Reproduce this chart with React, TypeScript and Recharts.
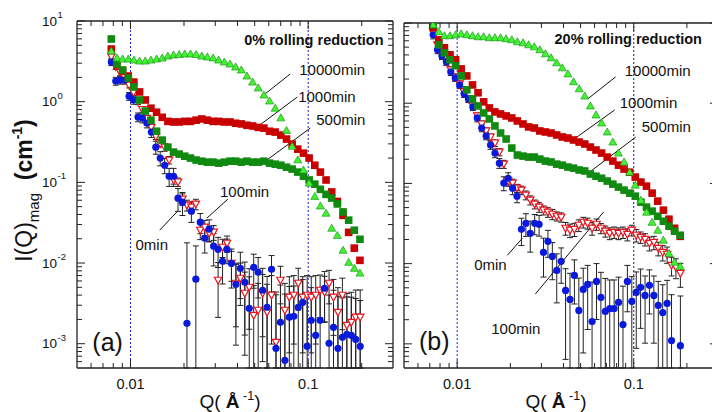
import React from 'react';
import { ScatterChart, Scatter, XAxis, YAxis, ErrorBar, ReferenceLine, ReferenceDot } from 'recharts';

const FONT = '"Liberation Sans", Arial, Helvetica, sans-serif';

// ---------------- tick values / labels ----------------
const xTicks = [0.006, 0.007, 0.008, 0.009, 0.01, 0.02, 0.03, 0.04, 0.05, 0.06, 0.07, 0.08, 0.09, 0.1, 0.2];
const xMajor = [0.01, 0.1];
const xMajorLabels = ['0.01', '0.1'];
const yTicks = [0.0006, 0.0007, 0.0008, 0.0009, 0.001, 0.002, 0.003, 0.004, 0.005, 0.006, 0.007, 0.008, 0.009,
  0.01, 0.02, 0.03, 0.04, 0.05, 0.06, 0.07, 0.08, 0.09, 0.1, 0.2, 0.3, 0.4, 0.5, 0.6, 0.7, 0.8, 0.9,
  1, 2, 3, 4, 5, 6, 7, 8, 9, 10];
const yMajor = [0.001, 0.01, 0.1, 1, 10];
const yMajorExp = ['-3', '-2', '-1', '0', '1'];
const X_DOMAIN = [0.005, 0.3];
const Y_DOMAIN = [0.0005, 10];

// ---------------- panel (a): 0% rolling reduction ----------------
const qA_a = [0.0078, 0.00839, 0.00903, 0.00972, 0.01045, 0.01125, 0.01211, 0.01303, 0.01402, 0.01508, 0.01623,
  0.01746, 0.01879, 0.02021, 0.02175, 0.0234, 0.02518, 0.02709, 0.02915, 0.03136, 0.03374, 0.0363, 0.03906,
  0.04203, 0.04522, 0.04865, 0.05235, 0.05632, 0.0606, 0.0652, 0.07015, 0.07548, 0.08121, 0.08738, 0.09403,
  0.1012, 0.1089, 0.1171, 0.126, 0.1356, 0.1459, 0.157, 0.1689, 0.1817, 0.1955];
const tri10000_a = [4.25, 3.48, 3.38, 3.38, 3.28, 3.19, 3.19, 3.28, 3.38, 3.48, 3.68, 3.79, 3.84, 3.9, 3.9, 3.84,
  3.68, 3.58, 3.48, 3.28, 3.1, 2.93, 2.69, 2.47, 2.08, 1.75, 1.48, 1.21, 1.02, 0.83, 0.63, 0.44, 0.28, 0.19,
  0.142, 0.098, 0.067, 0.051, 0.0415, 0.027, 0.022, 0.0144, 0.0102, 0.0086, 0.0075];
const sq1000_a = [4.49, 2.85, 2.4, 2.08, 1.75, 1.32, 1.05, 0.83, 0.74, 0.64, 0.57, 0.56, 0.56, 0.57, 0.57, 0.59,
  0.61, 0.59, 0.57, 0.57, 0.56, 0.56, 0.54, 0.53, 0.51, 0.5, 0.48, 0.47, 0.43, 0.42, 0.385, 0.344, 0.298, 0.258,
  0.23, 0.2, 0.163, 0.134, 0.107, 0.076, 0.058, 0.039, 0.024, 0.0153, 0.0108];
const sq500_a = [5.98, 2.93, 2.47, 1.96, 1.52, 1.05, 0.765, 0.59, 0.43, 0.334, 0.273, 0.237, 0.224, 0.211, 0.2,
  0.189, 0.183, 0.178, 0.178, 0.173, 0.178, 0.183, 0.183, 0.178, 0.183, 0.178, 0.178, 0.183, 0.173, 0.168, 0.163,
  0.154, 0.146, 0.134, 0.119, 0.107, 0.095, 0.082, 0.071, 0.064, 0.054, 0.043, 0.034, 0.0255, 0.0197];
const qB_a = [0.0078, 0.00826, 0.00875, 0.00927, 0.00982, 0.0104, 0.01102, 0.01167, 0.01236, 0.0131, 0.01388,
  0.0147, 0.01557, 0.0165, 0.01748, 0.01851, 0.01961, 0.02078, 0.02201, 0.02332, 0.0247, 0.02617, 0.02772,
  0.02937, 0.03111, 0.03296, 0.03492, 0.03699, 0.03919, 0.04151, 0.04398, 0.04659, 0.04936, 0.05229, 0.0554,
  0.05869, 0.06217, 0.06586, 0.06978, 0.07392, 0.07831, 0.08297, 0.0879, 0.09312, 0.09865, 0.104, 0.1102,
  0.1167, 0.1236, 0.131, 0.1388, 0.147, 0.1557, 0.165, 0.1748, 0.1851, 0.1961];
const circ0_a = [3.1, 1.8, 1.85, 1.85, 1.17, 1.05, 0.644, 0.626, 0.543, 0.42, 0.273, 0.2, 0.163, 0.119, 0.119,
  0.0637, 0.0568, 0.00179, 0.0439, 0.0063, 0.0321, 0.0203, 0.0263, 0.0162, 0.0148, 0.0105, 0.0148, 0.0099,
  0.00546, 0.00862, 0.00578, 0.00275, 0.00887, 0.00769, 0.0046, 0.00283, 0.00838, 0.000877, 0.00184, 0.000622,
  0.00213, 0.00219, 0.00283, 0.00326, 0.000928, 0.00195, 0.00127, 0.00195, 0.00487, 0.00101, 0.0016, 0.000877,
  0.0012, 0.00131, 0.00127, 0.00113, 0.000928];
const err0_a = [0.3, 0.2, 0.2, 0.2, 0.13, 0.12, 0.08, 0.08, 0.07, 0.06, 0.05, 0.04, 0.035, 0.03, 0.03, 0.02, 0.018,
  0.016, 0.012, 0.01, 0.009, 0.007, 0.008, 0.007, 0.006, 0.005, 0.005, 0.005, 0.0045, 0.005, 0.0045, 0.004, 0.004,
  0.004, 0.004, 0.004, 0.004, 0.0035, 0.0035, 0.0035, 0.003, 0.003, 0.003, 0.003, 0.003, 0.003, 0.003, 0.003,
  0.003, 0.003, 0.003, 0.003, 0.0025, 0.0025, 0.0025, 0.0025, 0.0025];
const tri100_a = [3.6, 2.7, 2.3, 2.0, 1.6, 1.3, 1.0, 0.8, 0.62, 0.48, 0.37, 0.3, 0.273, 0.189, 0.107, 0.101, 0.0619,
  0.0521, 0.0493, 0.0537, 0.0255, 0.0278, 0.0234, 0.0241, 0.00612, 0.0157, 0.0176, 0.00994, 0.00562, 0.00648,
  0.00422, 0.00501, 0.00225, 0.0026, 0.00422, 0.00245, 0.00399, 0.00104, 0.00612, 0.0026, 0.00377, 0.00399,
  0.00562, 0.00377, 0.00399, 0.00377, 0.00399, 0.0046, 0.00434, 0.00562, 0.00377, 0.00245, 0.00399, 0.00169,
  0.00184, 0.00213, 0.00213];
const err100_a = [0.3, 0.2, 0.2, 0.15, 0.12, 0.1, 0.08, 0.06, 0.05, 0.04, 0.03, 0.025, 0.03, 0.02, 0.012, 0.012,
  0.01, 0.008, 0.008, 0.008, 0.006, 0.006, 0.005, 0.005, 0.004, 0.004, 0.004, 0.004, 0.004, 0.0035, 0.0035, 0.0035,
  0.003, 0.003, 0.003, 0.003, 0.003, 0.003, 0.003, 0.003, 0.003, 0.003, 0.003, 0.003, 0.003, 0.003, 0.003,
  0.0025, 0.0025, 0.0025, 0.0025, 0.0025, 0.0025, 0.0025, 0.0025, 0.0025, 0.0025];

// ---------------- panel (b): 20% rolling reduction ----------------
const qA_b = [0.00731, 0.00787, 0.00847, 0.00911, 0.0098, 0.01054, 0.01134, 0.01221, 0.01313, 0.01413, 0.01521,
  0.01636, 0.01761, 0.01894, 0.02038, 0.02193, 0.0236, 0.02539, 0.02732, 0.02939, 0.03162, 0.03403, 0.03661,
  0.03939, 0.04238, 0.0456, 0.04907, 0.05279, 0.0568, 0.06112, 0.06577, 0.07076, 0.07614, 0.08192, 0.08815,
  0.09484, 0.102, 0.1098, 0.1181, 0.1271, 0.1368, 0.1472, 0.1583, 0.1703, 0.1833];
const tri10000_b = [9.5, 7.79, 6.94, 6.94, 7.14, 7.36, 7.14, 6.94, 6.74, 6.74, 6.55, 6.55, 6.55, 6.36, 6.18, 5.84,
  5.67, 5.35, 5.05, 4.64, 4.13, 3.68, 3.19, 2.76, 2.32, 1.85, 1.51, 1.23, 0.925, 0.714, 0.567, 0.438, 0.328,
  0.239, 0.185, 0.138, 0.0952, 0.0619, 0.0438, 0.0328, 0.0261, 0.0196, 0.0134, 0.0104, 0.00925];
const sq1000_b = [8.74, 6.18, 4.91, 4.01, 3.48, 2.68, 2.19, 1.69, 1.35, 1.04, 0.873, 0.778, 0.735, 0.694, 0.655,
  0.601, 0.551, 0.506, 0.491, 0.451, 0.438, 0.425, 0.402, 0.379, 0.368, 0.348, 0.328, 0.31, 0.284, 0.261, 0.239,
  0.213, 0.19, 0.169, 0.151, 0.138, 0.12, 0.104, 0.0925, 0.0757, 0.0601, 0.0464, 0.0358, 0.0276, 0.0219];
const sq500_b = [9.52, 5.35, 4.25, 3.48, 2.93, 2.19, 1.47, 1.13, 0.925, 0.756, 0.637, 0.521, 0.425, 0.358, 0.276,
  0.226, 0.219, 0.213, 0.213, 0.201, 0.19, 0.185, 0.174, 0.169, 0.16, 0.155, 0.147, 0.143, 0.131, 0.123, 0.116,
  0.107, 0.098, 0.09, 0.0825, 0.0757, 0.0694, 0.0584, 0.0506, 0.0451, 0.039, 0.0338, 0.0293, 0.0254, 0.0226];
const qB_b = [0.00731, 0.00774, 0.0082, 0.00869, 0.0092, 0.00975, 0.01033, 0.01094, 0.01159, 0.01227, 0.013,
  0.01377, 0.01459, 0.01545, 0.01637, 0.01734, 0.01837, 0.01945, 0.02061, 0.02183, 0.02312, 0.02449, 0.02594,
  0.02748, 0.02911, 0.03083, 0.03266, 0.03459, 0.03664, 0.03882, 0.04111, 0.04355, 0.04613, 0.04887, 0.05176,
  0.05483, 0.05808, 0.06152, 0.06516, 0.06902, 0.07311, 0.07745, 0.08204, 0.0869, 0.09204, 0.0975, 0.1033,
  0.1094, 0.1159, 0.1227, 0.13, 0.1377, 0.1459, 0.1545, 0.1637, 0.1734, 0.1837];
// null = point below the plotted range
const circ0_b = [7.14, 4.64, 3.9, 3.28, 2.46, 2.07, 1.69, 1.31, 1.13, 0.899, 0.655, 0.491, 0.39, 0.301, 0.239,
  0.179, 0.101, 0.116, 0.0873, 0.0694, 0.0268, 0.0319, 0.0239, 0.0319, 0.031, 0.0138, 0.019, 0.0123, 0.00824,
  0.0107, 0.00464, 0.00358, 0.00714, 0.00261, 0.00477, 0.00551, 0.0019, 0.00601, 0.00379, 0.00254, 0.00276,
  0.00276, 0.00328, 0.00174, 0.00601, 0.00338, 0.00438, 0.00506, 0.00402, 0.00536, 0.00402, 0.00301, 0.00246,
  0.00319, 0.0011, null, 0.00095];
const err0_b = [0.8, 0.5, 0.4, 0.3, 0.25, 0.2, 0.17, 0.13, 0.11, 0.09, 0.07, 0.05, 0.04, 0.035, 0.03, 0.025, 0.02,
  0.02, 0.015, 0.012, 0.01, 0.01, 0.01, 0.009, 0.009, 0.007, 0.007, 0.006, 0.005, 0.005, 0.004, 0.004, 0.004,
  0.004, 0.004, 0.004, 0.004, 0.004, 0.004, 0.004, 0.0035, 0.0035, 0.0035, 0.0035, 0.0035, 0.0035, 0.0035,
  0.0035, 0.003, 0.003, 0.003, 0.003, 0.003, 0.003, 0.003, 0.003, 0.003];
const tri100_b = [7.79, 5.35, 4.01, 3.28, 2.61, 2.13, 1.74, 1.38, 1.13, 0.925, 0.694, 0.551, 0.451, 0.379, 0.319,
  0.246, 0.174, 0.107, 0.101, 0.0873, 0.0825, 0.0714, 0.0619, 0.0551, 0.0506, 0.0464, 0.0438, 0.0413, 0.039,
  0.0379, 0.0276, 0.0261, 0.0268, 0.0301, 0.0328, 0.0319, 0.0276, 0.031, 0.0276, 0.0254, 0.0239, 0.0246, 0.0239,
  0.0246, 0.0232, 0.0261, 0.0226, 0.0213, 0.0201, 0.0179, 0.0184, 0.0155, 0.0138, 0.0131, 0.00952, 0.00899,
  0.00757];
const err100_b = [0.8, 0.5, 0.4, 0.3, 0.25, 0.2, 0.15, 0.12, 0.1, 0.08, 0.06, 0.05, 0.04, 0.035, 0.03, 0.025, 0.02,
  0.015, 0.012, 0.01, 0.01, 0.009, 0.008, 0.007, 0.007, 0.006, 0.006, 0.006, 0.005, 0.005, 0.005, 0.005, 0.005,
  0.005, 0.005, 0.005, 0.005, 0.005, 0.004, 0.004, 0.004, 0.004, 0.004, 0.004, 0.004, 0.004, 0.004, 0.0035,
  0.0035, 0.0035, 0.0035, 0.003, 0.003, 0.003, 0.0025, 0.0025, 0.0025];

// ---------------- annotations (data coordinates) ----------------
const annotA = [
  { label: '10000min', q: 0.089, i: 2.47 },
  { label: '1000min', q: 0.0878, i: 1.17 },
  { label: '500min', q: 0.111, i: 0.608 },
  { label: '100min', q: 0.0319, i: 0.0778 },
  { label: '0min', q: 0.01067, i: 0.0171 },
];
const leaderA = [
  { q1: 0.0791, i1: 2.2, q2: 0.0543, i2: 1.14 },
  { q1: 0.0867, i1: 1.14, q2: 0.0515, i2: 0.484 },
  { q1: 0.1026, i1: 0.47, q2: 0.0564, i2: 0.178 },
  { q1: 0.0353, i1: 0.0619, q2: 0.0269, i2: 0.036 },
  { q1: 0.0184, i1: 0.0439, q2: 0.0146, i2: 0.0255 },
];
const annotB = [
  { label: '10000min', q: 0.0889, i: 2.53 },
  { label: '1000min', q: 0.0833, i: 1.01 },
  { label: '500min', q: 0.111, i: 0.506 },
  { label: '0min', q: 0.01249, i: 0.0098 },
  { label: '100min', q: 0.0156, i: 0.00155 },
];
const leaderB = [
  { q1: 0.079, i1: 2.13, q2: 0.0548, i2: 1.13 },
  { q1: 0.078, i1: 0.824, q2: 0.0468, i2: 0.368 },
  { q1: 0.1027, i1: 0.379, q2: 0.0562, i2: 0.1384 },
  { q1: 0.01924, i1: 0.0127, q2: 0.0234, i2: 0.0207 },
  { q1: 0.0277, i1: 0.00417, q2: 0.0675, i2: 0.0441 },
];

function pts(qs: number[], vs: (number | null)[], errs?: number[]) {
  const out: any[] = [];
  qs.forEach((q, k) => {
    const i = vs[k];
    if (i == null) return;
    const p: any = { q, i };
    // lower bar stops at the bottom of the plotted range
    if (errs) p.err = [Math.min(errs[k], i - Y_DOMAIN[0]), errs[k]];
    out.push(p);
  });
  return out;
}

const PANELS = [
  {
    key: 'a', left: 0, width: 400, margin: { top: 20, right: 6, bottom: 43, left: 76 },
    title: '0% rolling reduction', titleAt: { q: 0.2655, i: 5.81 },
    letter: '(a)', letterAt: { q: 0.0061, i: 0.000984 },
    yLabels: true, vline2: '#2222ee',
    annots: annotA, leaders: leaderA,
    d100: pts(qB_a, tri100_a, err100_a), d0: pts(qB_a, circ0_a, err0_a),
    d1000: pts(qA_a, sq1000_a), d500: pts(qA_a, sq500_a), d10000: pts(qA_a, tri10000_a),
  },
  {
    key: 'b', left: 327, width: 400, margin: { top: 22, right: 8, bottom: 43, left: 76 },
    title: '20% rolling reduction', titleAt: { q: 0.2434, i: 6.37 },
    letter: '(b)', letterAt: { q: 0.00608, i: 0.00101 },
    yLabels: false, vline2: '#1a1a80',
    annots: annotB, leaders: leaderB,
    d100: pts(qB_b, tri100_b, err100_b), d0: pts(qB_b, circ0_b, err0_b),
    d1000: pts(qA_b, sq1000_b), d500: pts(qA_b, sq500_b), d10000: pts(qA_b, tri10000_b),
  },
];

function matchIdx(arr: number[], v: number) {
  return arr.findIndex((m) => Math.abs(m - v) <= m * 1e-6);
}

function XTick(props: any) {
  const { x, y, payload, side, showLabel } = props;
  const mi = matchIdx(xMajor, payload.value);
  const len = mi >= 0 ? 8 : 5;
  const dir = side === 'bottom' ? -1 : 1;
  return (
    <g>
      <line x1={x} x2={x} y1={y} y2={y + dir * len} stroke="#222" strokeWidth={1} />
      {showLabel && mi >= 0 ? (
        <text x={x} y={y + 21} textAnchor="middle" fontSize={14.5} fill="#111" fontFamily={FONT}>{xMajorLabels[mi]}</text>
      ) : null}
    </g>
  );
}

function YTick(props: any) {
  const { x, y, payload, side, showLabel } = props;
  const mi = matchIdx(yMajor, payload.value);
  const len = mi >= 0 ? 8 : 5;
  const dir = side === 'left' ? 1 : -1;
  return (
    <g>
      <line x1={x} x2={x + dir * len} y1={y} y2={y} stroke="#222" strokeWidth={1} />
      {showLabel && mi >= 0 ? (
        <g fontFamily={FONT} fill="#111">
          <text x={x - 20} y={y + 4.5} textAnchor="end" fontSize={13.5}>10</text>
          <text x={x - 19.5} y={y - 3} textAnchor="start" fontSize={9.5}>{yMajorExp[mi]}</text>
        </g>
      ) : null}
    </g>
  );
}

const square = (fill: string) => (p: any) => (
  <rect x={p.cx - 3.8} y={p.cy - 3.8} width={7.6} height={7.6} fill={fill} />
);
const triUp = (p: any) => (
  <polygon points={`${p.cx},${p.cy - 4} ${p.cx + 4},${p.cy + 3} ${p.cx - 4},${p.cy + 3}`} fill="#44f233" stroke="#1a9a1a" strokeWidth={0.7} />
);
const triDownOpen = (p: any) => (
  <polygon points={`${p.cx - 3.7},${p.cy - 3} ${p.cx + 3.7},${p.cy - 3} ${p.cx},${p.cy + 3.7}`} fill="#ffffff" stroke="#e8141e" strokeWidth={1.2} />
);
const circle = (p: any) => <circle cx={p.cx} cy={p.cy} r={3.6} fill="#0a1adc" />;

function Panel({ cfg }: { cfg: any }) {
  const axisLine = { stroke: '#222', strokeWidth: 1.3 };
  return (
    <ScatterChart width={cfg.width} height={412} margin={cfg.margin} style={{ fontFamily: FONT }}>
      <XAxis
        xAxisId={0} dataKey="q" type="number" scale="log" domain={X_DOMAIN} allowDataOverflow
        ticks={xTicks} interval={0} height={1} tickSize={0} tickMargin={0} tickLine={false} axisLine={axisLine}
        tick={(p: any) => <XTick {...p} side="bottom" showLabel />}
        label={{
          content: (lp: any) => {
            const vb = lp.viewBox || { x: 0, y: 0, width: 0, height: 0 };
            const cx = vb.x + vb.width / 2 - 5;
            return (
              <text x={cx} y={vb.y + 39.5} textAnchor="middle" fontSize={19} fill="#111" fontFamily={FONT}>
                Q(<tspan fontWeight="bold"> Å</tspan><tspan fontSize={12.5} dy={-8}> -1</tspan><tspan dy={8}>)</tspan>
              </text>
            );
          },
        }}
      />
      <XAxis
        xAxisId="top" orientation="top" dataKey="q" type="number" scale="log" domain={X_DOMAIN} allowDataOverflow
        ticks={xTicks} interval={0} height={1} tickSize={0} tickMargin={0} tickLine={false} axisLine={axisLine}
        tick={(p: any) => <XTick {...p} side="top" />}
      />
      <YAxis
        yAxisId={0} dataKey="i" type="number" scale="log" domain={Y_DOMAIN} allowDataOverflow
        ticks={yTicks} interval={0} width={1} tickSize={0} tickMargin={0} tickLine={false} axisLine={axisLine}
        tick={(p: any) => <YTick {...p} side="left" showLabel={cfg.yLabels} />}
        label={cfg.yLabels ? {
          content: (lp: any) => {
            const vb = lp.viewBox || { x: 0, y: 0, width: 0, height: 0 };
            const tx = vb.x + vb.width - 45;
            const ty = vb.y + vb.height / 2 - 4;
            return (
              <text x={tx} y={ty} transform={`rotate(-90, ${tx}, ${ty})`} textAnchor="middle" fontSize={23} fill="#111" fontFamily={FONT}>
                I(Q)<tspan fontSize={15} dy={7}>mag</tspan>
                <tspan dy={-7}>{'\u00a0\u00a0'}</tspan>
                <tspan fontWeight="bold">(cm</tspan>
                <tspan fontWeight="bold" fontSize={14} dy={-10}>-1</tspan>
                <tspan fontWeight="bold" dy={10}>)</tspan>
              </text>
            );
          },
        } : undefined}
      />
      <YAxis
        yAxisId="right" orientation="right" dataKey="i" type="number" scale="log" domain={Y_DOMAIN} allowDataOverflow
        ticks={yTicks} interval={0} width={1} tickSize={0} tickMargin={0} tickLine={false} axisLine={axisLine}
        tick={(p: any) => <YTick {...p} side="right" />}
      />

      <ReferenceLine x={0.01} stroke="#2222ee" strokeDasharray="2 2" strokeWidth={1} />
      <ReferenceLine x={0.1} stroke={cfg.vline2} strokeDasharray="2 2" strokeWidth={1} />

      <Scatter name="100min" data={cfg.d100} shape={triDownOpen} isAnimationActive={false}>
        <ErrorBar dataKey="err" direction="y" width={3} stroke="#222" strokeWidth={1} />
      </Scatter>
      <Scatter name="0min" data={cfg.d0} shape={circle} isAnimationActive={false}>
        <ErrorBar dataKey="err" direction="y" width={3} stroke="#222" strokeWidth={1} />
      </Scatter>
      <Scatter name="1000min" data={cfg.d1000} shape={square('#c80000')} isAnimationActive={false} />
      <Scatter name="500min" data={cfg.d500} shape={square('#118a11')} isAnimationActive={false} />
      <Scatter name="10000min" data={cfg.d10000} shape={triUp} isAnimationActive={false} />

      {cfg.leaders.map((l: any, n: number) => (
        <ReferenceLine key={`l${n}`} segment={[{ x: l.q1, y: l.i1 }, { x: l.q2, y: l.i2 }]} stroke="#111" strokeWidth={1} />
      ))}
      {cfg.annots.map((a: any, n: number) => (
        <ReferenceDot key={`a${n}`} x={a.q} y={a.i} r={0}
          shape={(p: any) => (
            <text x={p.cx} y={p.cy + 5.4} fontSize={15} fill="#111" fontFamily={FONT}>{a.label}</text>
          )} />
      ))}
      <ReferenceDot x={cfg.titleAt.q} y={cfg.titleAt.i} r={0}
        shape={(p: any) => (
          <text x={p.cx} y={p.cy + 5.2} textAnchor="end" fontSize={14.5} fontWeight="bold" fill="#111" fontFamily={FONT}>{cfg.title}</text>
        )} />
      <ReferenceDot x={cfg.letterAt.q} y={cfg.letterAt.i} r={0}
        shape={(p: any) => (
          <text x={p.cx} y={p.cy + 6.5} fontSize={25} fill="#111" fontFamily={FONT}>{cfg.letter}</text>
        )} />
    </ScatterChart>
  );
}

export default function App() {
  return (
    <div style={{ position: 'fixed', left: 0, top: 0, width: 712, height: 412, overflow: 'hidden', background: '#fff' }}>
      {PANELS.map((cfg) => (
        <div key={cfg.key} style={{ position: 'absolute', left: cfg.left, top: 0, width: cfg.width, height: 412 }}>
          <Panel cfg={cfg} />
        </div>
      ))}
    </div>
  );
}
